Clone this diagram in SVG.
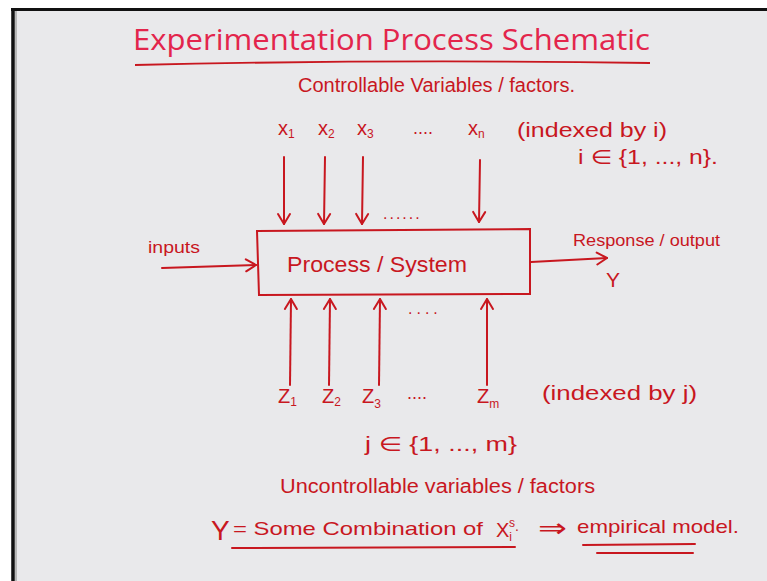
<svg xmlns="http://www.w3.org/2000/svg" width="767" height="581" viewBox="0 0 767 581">
<style>
.hw{font-family:"Liberation Sans","DejaVu Sans",sans-serif;fill:#c8171f;}
.ln{stroke:#c8171f;stroke-width:2;fill:none;stroke-linecap:round;}
.sub{font-size:12px;}
</style>
<defs>
<marker id="ah" markerUnits="userSpaceOnUse" markerWidth="16" markerHeight="16" viewBox="-12 -8 14 16" refX="0" refY="0" orient="auto">
<path d="M-10,-6 L0,0 L-10,6" fill="none" stroke="#c8171f" stroke-width="2" stroke-linecap="round" stroke-linejoin="round"/>
</marker>
</defs>
<rect x="0" y="0" width="767" height="581" fill="#ffffff"/>
<rect x="11" y="8" width="756" height="573" fill="#e9e9eb"/>
<line x1="11" y1="9.5" x2="767" y2="9.5" stroke="#111" stroke-width="3"/>
<line x1="13" y1="8" x2="13" y2="581" stroke="#111" stroke-width="3.5"/>
<line x1="16" y1="11" x2="16" y2="581" stroke="#b8b8b8" stroke-width="2"/>

<g id="title">
<text x="133" y="50" font-family="'Open Sans','Liberation Sans',sans-serif" font-size="29" fill="#e3254c" textLength="517" lengthAdjust="spacingAndGlyphs">Experimentation Process Schematic</text>
<path d="M135,65 Q390,59 650,63" stroke="#c8171f" stroke-width="1.8" fill="none"/>
</g>

<g id="controllable-label">
<text class="hw" x="298" y="92" font-size="20" textLength="277" lengthAdjust="spacingAndGlyphs">Controllable Variables / factors.</text>
</g>

<g id="x-vars">
<text class="hw" x="278" y="135" font-size="20">x<tspan class="sub" dy="3">1</tspan></text>
<text class="hw" x="318" y="135" font-size="20">x<tspan class="sub" dy="3">2</tspan></text>
<text class="hw" x="357" y="135" font-size="20">x<tspan class="sub" dy="3">3</tspan></text>
<text class="hw" x="413" y="134" font-size="18">....</text>
<text class="hw" x="468" y="135" font-size="20">x<tspan class="sub" dy="3">n</tspan></text>
<text class="hw" x="517" y="137" font-size="20" textLength="150" lengthAdjust="spacingAndGlyphs">(indexed by i)</text>
<text class="hw" x="578" y="164" font-size="20" textLength="140" lengthAdjust="spacingAndGlyphs">i ∈ {1, ..., n}.</text>
</g>

<g id="process">
<path class="ln" d="M257,231 L530,229 L530,294 L259,295 Z"/>
<text class="hw" x="287" y="272" font-size="22" textLength="180" lengthAdjust="spacingAndGlyphs">Process / System</text>
</g>

<g id="inputs">
<text class="hw" x="148" y="253" font-size="17" textLength="52" lengthAdjust="spacingAndGlyphs">inputs</text>
</g>

<g id="response">
<text class="hw" x="573" y="246" font-size="17" textLength="147" lengthAdjust="spacingAndGlyphs">Response / output</text>
<text class="hw" x="606" y="287" font-size="21">Y</text>
</g>

<g id="z-vars">
<text class="hw" x="278" y="403" font-size="20">Z<tspan class="sub" dy="3">1</tspan></text>
<text class="hw" x="322" y="403" font-size="20">Z<tspan class="sub" dy="3">2</tspan></text>
<text class="hw" x="362" y="403" font-size="20">Z<tspan class="sub" dy="5">3</tspan></text>
<text class="hw" x="407" y="399" font-size="18">....</text>
<text class="hw" x="477" y="403" font-size="20">Z<tspan class="sub" dy="5">m</tspan></text>
<text class="hw" x="542" y="400" font-size="20" textLength="155" lengthAdjust="spacingAndGlyphs">(indexed by j)</text>
<text class="hw" x="365" y="451" font-size="20" textLength="152" lengthAdjust="spacingAndGlyphs">j ∈ {1, ..., m}</text>
</g>

<g id="uncontrollable-label">
<text class="hw" x="280" y="493" font-size="20" textLength="315" lengthAdjust="spacingAndGlyphs">Uncontrollable variables / factors</text>
</g>

<g id="model">
<text class="hw" x="211" y="540" font-size="28">Y</text>
<text class="hw" x="233" y="535" font-size="19" textLength="250" lengthAdjust="spacingAndGlyphs">= Some Combination of</text>
<text class="hw" x="496" y="537" font-size="20">X<tspan class="sub" dy="4">i</tspan><tspan class="sub" dx="-3" dy="-14">s</tspan><tspan font-size="14" dy="4">.</tspan></text>
<text class="hw" x="538" y="537" font-size="26" textLength="29" lengthAdjust="spacingAndGlyphs">⇒</text>
<text class="hw" x="577" y="533" font-size="19" textLength="162" lengthAdjust="spacingAndGlyphs">empirical model.</text>
<line class="ln" x1="232" y1="548" x2="515" y2="547"/>
<line class="ln" x1="583" y1="545" x2="695" y2="544"/>
<line class="ln" x1="597" y1="553" x2="693" y2="553"/>
</g>

<g id="connectors">
<line class="ln" x1="284" y1="157" x2="284" y2="224" marker-end="url(#ah)"/>
<line class="ln" x1="325" y1="157" x2="324" y2="224" marker-end="url(#ah)"/>
<line class="ln" x1="363" y1="157" x2="362" y2="224" marker-end="url(#ah)"/>
<line class="ln" x1="480" y1="160" x2="479" y2="222" marker-end="url(#ah)"/>
<text class="hw" x="383" y="219" font-size="16" letter-spacing="2">......</text>
<line class="ln" x1="162" y1="268" x2="256" y2="265" marker-end="url(#ah)"/>
<line class="ln" x1="531" y1="262" x2="607" y2="258" marker-end="url(#ah)"/>
<line class="ln" x1="290" y1="385" x2="291" y2="299" marker-end="url(#ah)"/>
<line class="ln" x1="329" y1="385" x2="330" y2="299" marker-end="url(#ah)"/>
<line class="ln" x1="379" y1="385" x2="380" y2="299" marker-end="url(#ah)"/>
<line class="ln" x1="487" y1="385" x2="487" y2="299" marker-end="url(#ah)"/>
<text class="hw" x="408" y="314" font-size="16" letter-spacing="4">....</text>
</g>
</svg>
